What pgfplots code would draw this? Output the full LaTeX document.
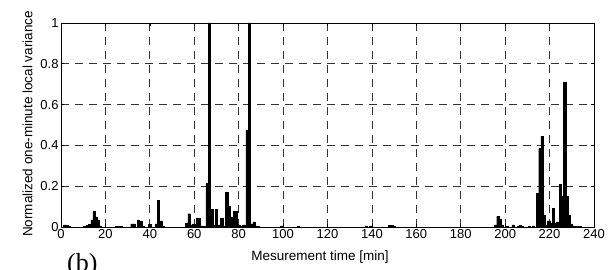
\documentclass[border=0pt]{standalone}
\usepackage{fontspec}
\setmainfont{Liberation Sans}
\newfontfamily\serifb{Liberation Serif}
\usepackage{pgfplots}
\pgfplotsset{compat=1.18}
\usepackage{pgfplotstable}
\pgfplotstableread{
x y
1.7 0.010
2.7 0.008
3.7 0.003
10.7 0.004
11.7 0.008
12.7 0.012
13.9 0.035
14.9 0.075
15.9 0.050
16.8 0.035
17.8 0.005
25.0 0.004
26.0 0.004
27.0 0.003
31.9 0.015
32.9 0.015
34.9 0.035
35.9 0.028
36.9 0.004
39.9 0.012
42.9 0.015
43.9 0.130
44.9 0.030
45.9 0.003
56.5 0.020
57.6 0.065
58.7 0.010
59.8 0.015
61.3 0.045
62.4 0.043
63.5 0.005
64.6 0.003
65.7 0.215
66.9 1.000
68.0 0.085
69.0 0.010
70.0 0.085
71.0 0.010
72.4 0.045
73.4 0.005
74.6 0.170
75.6 0.100
76.6 0.050
77.4 0.010
78.1 0.075
79.0 0.075
80.2 0.010
81.2 0.003
82.3 0.010
83.8 0.475
84.9 1.000
85.9 0.015
86.9 0.025
87.9 0.005
88.9 0.003
99.4 0.005
106.7 0.003
137.5 0.004
139.5 0.005
148.0 0.008
149.0 0.007
150.0 0.005
195.7 0.010
196.7 0.052
197.7 0.040
198.7 0.010
200.7 0.003
203.5 0.010
205.8 0.005
206.8 0.008
207.8 0.004
210.7 0.003
212.7 0.005
214.5 0.165
215.6 0.385
216.6 0.445
217.6 0.060
218.6 0.010
219.6 0.030
220.6 0.020
221.7 0.090
222.7 0.020
223.7 0.025
224.8 0.210
225.8 0.150
226.8 0.710
227.8 0.150
228.8 0.060
229.8 0.015
230.8 0.005
231.8 0.004
232.8 0.003
233.8 0.003
}\datatable
\begin{document}
\begin{tikzpicture}
\useasboundingbox (0,0) rectangle (614bp,270bp);
\begin{axis}[
  at={(61bp,43bp)}, anchor=south west,
  scale only axis,
  width=533bp, height=204bp,
  xmin=0, xmax=240, ymin=0, ymax=1,
  xtick={0,20,...,240},
  ytick={0,0.2,0.4,0.6,0.8,1},
  yticklabels={0,0.2,0.4,0.6,0.8,1},
  /pgf/number format/assume math mode=true,
  ticklabel style={font=\fontsize{13bp}{15bp}\selectfont, text=black},
  xticklabel style={yshift=1bp},
  yticklabel style={xshift=1bp},
  tick align=inside,
  major tick length=3bp,
  tick style={black, line width=0.6bp},
  axis line style={black, line width=0.9bp},
  grid=major,
  major grid style={black!80, line width=0.8bp, dash pattern=on 8bp off 6bp},
  xlabel={Mesurement time [min]},
  ylabel={Normalized one-minute local variance},
  label style={font=\fontsize{13.5bp}{15bp}\selectfont},
  xlabel style={at={(axis description cs:0.486,-0.147)}, anchor=center},
  ylabel style={at={(axis description cs:-0.0629,0.505)}, anchor=center},
  clip=true,
]
\addplot[ybar, bar width=1, bar shift=0pt, fill=black, draw=black, line width=0.4bp] table[x=x, y=y] {\datatable};
\end{axis}
\node[anchor=north west, inner sep=0pt, font=\serifb\fontsize{26bp}{28bp}\selectfont] at (67bp,17bp) {(b)};
\end{tikzpicture}
\end{document}
